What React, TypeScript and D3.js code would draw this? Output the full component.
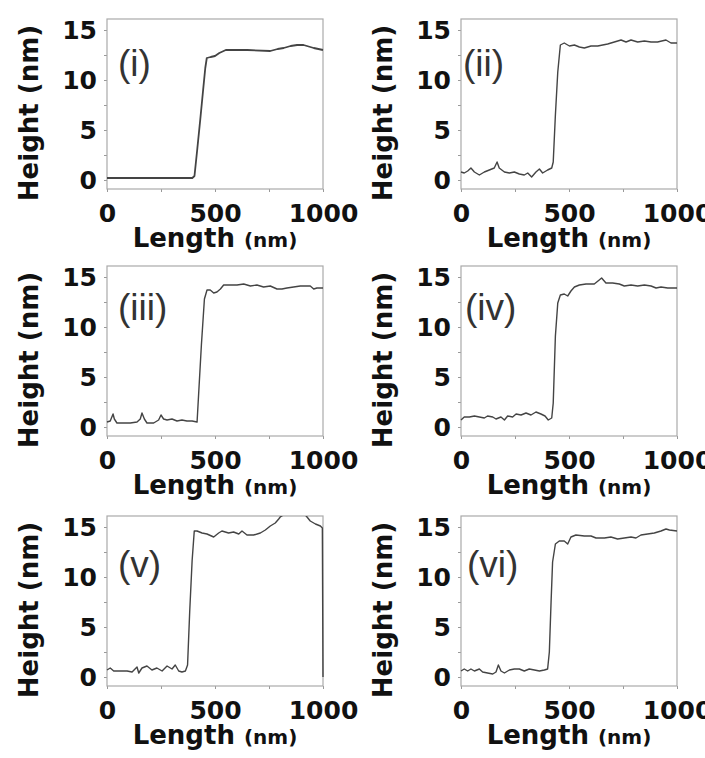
import React, { useRef, useEffect } from 'react';
import * as d3 from 'd3';

// AFM height profiles, [length nm, height nm]
const seriesI = [
  [0, 0.2], [100, 0.2], [200, 0.2], [300, 0.2], [395, 0.2], [405, 0.4], [418, 3.1], [432, 6.1],
  [445, 9.0], [455, 11.2], [462, 12.2], [480, 12.3], [500, 12.4], [520, 12.7], [550, 13.0],
  [650, 13.0], [756, 12.9], [790, 13.1], [818, 13.2], [850, 13.4], [880, 13.5], [910, 13.5],
  [957, 13.2], [1000, 13.0],
];
const seriesII = [
  [0, 0.8], [15, 0.7], [31, 0.9], [46, 1.2], [62, 0.8], [85, 0.5], [108, 0.8], [131, 1.0],
  [154, 1.2], [167, 1.8], [177, 1.2], [201, 0.8], [224, 0.7], [247, 0.8], [270, 0.6], [293, 0.5],
  [309, 0.7], [327, 0.3], [347, 0.8], [363, 1.1], [378, 0.7], [401, 1.0], [420, 1.2], [427, 1.8],
  [437, 6.5], [448, 10.8], [460, 13.5], [478, 13.7], [502, 13.4], [525, 13.5], [548, 13.3],
  [571, 13.2], [602, 13.4], [633, 13.4], [679, 13.6], [710, 13.8], [741, 14.0], [764, 13.8],
  [787, 14.0], [818, 13.8], [849, 13.9], [880, 13.8], [910, 13.8], [949, 14.0], [972, 13.7],
  [1000, 13.7],
];
const seriesIII = [
  [0, 0.5], [15, 0.6], [28, 1.3], [34, 0.8], [46, 0.4], [77, 0.4], [108, 0.4], [139, 0.5],
  [154, 0.8], [162, 1.4], [173, 0.8], [185, 0.4], [216, 0.4], [239, 0.7], [250, 1.2], [262, 0.8],
  [278, 0.7], [301, 0.8], [324, 0.6], [347, 0.7], [370, 0.6], [394, 0.6], [417, 0.5], [424, 3.2],
  [437, 8.2], [451, 12.8], [463, 13.7], [478, 13.7], [494, 13.4], [509, 13.5], [525, 13.8],
  [540, 14.2], [571, 14.2], [602, 14.2], [633, 14.3], [664, 14.1], [694, 14.2], [725, 14.0],
  [756, 14.1], [787, 13.8], [810, 13.8], [833, 13.9], [895, 14.1], [941, 14.1], [957, 13.8],
  [972, 13.9], [1000, 13.9],
];
const seriesIV = [
  [0, 0.7], [15, 1.0], [39, 1.0], [62, 1.1], [85, 1.0], [108, 0.9], [123, 1.1], [147, 1.0],
  [162, 0.8], [185, 1.0], [201, 0.7], [216, 1.1], [239, 1.0], [255, 1.3], [278, 1.2], [301, 1.4],
  [324, 1.2], [347, 1.5], [370, 1.3], [389, 1.1], [404, 0.7], [420, 0.9], [427, 2.4], [437, 9.1],
  [448, 12.4], [460, 13.2], [478, 13.3], [494, 13.1], [509, 13.6], [525, 14.0], [548, 14.2],
  [579, 14.3], [617, 14.3], [640, 14.7], [651, 14.9], [671, 14.4], [702, 14.4], [733, 14.3],
  [756, 14.1], [787, 14.2], [818, 14.1], [849, 14.2], [880, 14.1], [903, 13.9], [926, 14.0],
  [957, 13.9], [1000, 13.9],
];
const seriesV = [
  [0, 0.7], [15, 0.9], [31, 0.6], [62, 0.6], [93, 0.6], [116, 0.5], [139, 1.0], [147, 0.4],
  [162, 0.9], [185, 1.1], [208, 0.7], [231, 0.9], [255, 0.6], [278, 1.1], [301, 0.8], [316, 1.2],
  [332, 0.6], [347, 0.5], [363, 0.6], [373, 1.2], [383, 6.6], [394, 11.6], [404, 14.6],
  [417, 14.6], [440, 14.4], [463, 14.3], [494, 14.0], [517, 14.4], [532, 14.6], [563, 14.4],
  [586, 14.5], [610, 14.3], [625, 14.6], [648, 14.2], [679, 14.2], [710, 14.4], [733, 14.7],
  [756, 15.1], [779, 15.4], [795, 15.8], [802, 16.0], [830, 16.4], [870, 16.6], [910, 16.4],
  [926, 16.0], [941, 15.6], [965, 15.3], [988, 15.1], [997, 14.9], [1000, 0.0],
];
const seriesVI = [
  [0, 0.6], [15, 0.8], [31, 0.6], [46, 0.8], [62, 0.6], [85, 0.8], [100, 0.5], [123, 0.4],
  [147, 0.3], [162, 0.5], [173, 1.2], [185, 0.6], [201, 0.4], [224, 0.7], [247, 0.8], [270, 0.8],
  [293, 0.6], [316, 0.8], [340, 0.7], [363, 0.6], [386, 0.7], [401, 0.8], [409, 2.5], [417, 7.5],
  [424, 11.5], [437, 13.3], [455, 13.6], [478, 13.6], [494, 13.3], [509, 14.0], [532, 14.2],
  [571, 14.1], [602, 14.1], [625, 13.9], [664, 13.9], [694, 14.0], [725, 13.8], [756, 13.9],
  [787, 14.0], [810, 13.9], [833, 14.2], [864, 14.3], [895, 14.4], [926, 14.6], [949, 14.8],
  [965, 14.7], [1000, 14.6],
];

const allSeries = [seriesI, seriesII, seriesIII, seriesIV, seriesV, seriesVI];
const panelLabels = ['(i)', '(ii)', '(iii)', '(iv)', '(v)', '(vi)'];
const xTicks = [0, 250, 500, 750, 1000];
const xTickLabels = [0, 500, 1000];
const yTicks = [0, 2.5, 5, 7.5, 10, 12.5, 15];
const yTickLabels = [0, 5, 10, 15];

const W = 705;
const H = 758;
const colLeft = [107, 461];
const rowTop = [19, 266, 516];
const plotW = 216;
const plotH = 170;
// panel label offsets [dx, baseline dy] from plot top-left
const labelPos = [[11, 57], [2, 57], [11, 54], [4, 54], [11, 61], [6, 61]];

const boldFont = '"DejaVu Sans", sans-serif';

const App = () => {
  const svgRef = useRef(null);

  useEffect(() => {
    const svg = d3.select(svgRef.current);
    svg.selectAll('*').remove();

    allSeries.forEach((data, i) => {
      const left = colLeft[i % 2];
      const top = rowTop[Math.floor(i / 2)];

      const x = d3.scaleLinear().domain([0, 1000]).range([left, left + plotW]);
      const y = d3.scaleLinear().domain([-0.9, 16.1]).range([top + plotH, top]);

      const g = svg.append('g');

      // bottom axis
      const xAxis = g.append('g')
        .attr('transform', `translate(0,${top + plotH})`)
        .call(d3.axisBottom(x)
          .tickValues(xTicks)
          .tickSize(3)
          .tickPadding(12)
          .tickFormat(d => (xTickLabels.includes(d) ? String(d) : '')));
      xAxis.select('.domain').remove();
      xAxis.selectAll('.tick line').attr('stroke', '#999');
      xAxis.selectAll('text')
        .attr('font-family', boldFont)
        .attr('font-weight', 'bold')
        .attr('font-size', 25)
        .attr('fill', '#111');

      // left axis
      const yAxis = g.append('g')
        .attr('transform', `translate(${left},0)`)
        .call(d3.axisLeft(y)
          .tickValues(yTicks)
          .tickSize(3)
          .tickPadding(7)
          .tickFormat(d => (yTickLabels.includes(d) ? String(d) : '')));
      yAxis.select('.domain').remove();
      yAxis.selectAll('.tick line').attr('stroke', '#999');
      yAxis.selectAll('text')
        .attr('font-family', boldFont)
        .attr('font-weight', 'bold')
        .attr('font-size', 25)
        .attr('fill', '#111');

      // frame
      g.append('rect')
        .attr('x', left)
        .attr('y', top)
        .attr('width', plotW)
        .attr('height', plotH)
        .attr('fill', 'none')
        .attr('stroke', '#aaa')
        .attr('stroke-width', 1.2);

      // clip so the curve stays in the box
      const clipId = `clip-${i}`;
      g.append('clipPath').attr('id', clipId)
        .append('rect')
        .attr('x', left - 1)
        .attr('y', top)
        .attr('width', plotW + 2)
        .attr('height', plotH);

      const line = d3.line()
        .x(d => x(d[0]))
        .y(d => y(d[1]));

      g.append('path')
        .datum(data)
        .attr('clip-path', `url(#${clipId})`)
        .attr('fill', 'none')
        .attr('stroke', '#444')
        .attr('stroke-width', i === 0 ? 1.8 : 1.4)
        .attr('stroke-linejoin', 'round')
        .attr('d', line);

      // panel label
      g.append('text')
        .attr('x', left + labelPos[i][0])
        .attr('y', top + labelPos[i][1])
        .attr('font-family', '"Liberation Sans", Arial, sans-serif')
        .attr('font-size', 37)
        .attr('fill', '#333')
        .text(panelLabels[i]);

      // x title
      const xt = g.append('text')
        .attr('x', left + plotW / 2)
        .attr('y', top + plotH + 58)
        .attr('text-anchor', 'middle')
        .attr('font-family', boldFont)
        .attr('font-weight', 'bold')
        .attr('fill', '#111');
      xt.append('tspan').attr('font-size', 26).text('Length ');
      xt.append('tspan').attr('font-size', 20).text('(nm)');

      // y title
      const cy = top + plotH / 2 + 9;
      g.append('text')
        .attr('transform', `translate(${left - 69},${cy}) rotate(-90)`)
        .attr('text-anchor', 'middle')
        .attr('font-family', boldFont)
        .attr('font-weight', 'bold')
        .attr('font-size', 26)
        .attr('fill', '#111')
        .text('Height (nm)');
    });
  }, []);

  return (
    <svg
      ref={svgRef}
      width={W}
      height={H}
      style={{ position: 'absolute', left: 0, top: 0, background: '#fff' }}
    />
  );
};

export default App;
